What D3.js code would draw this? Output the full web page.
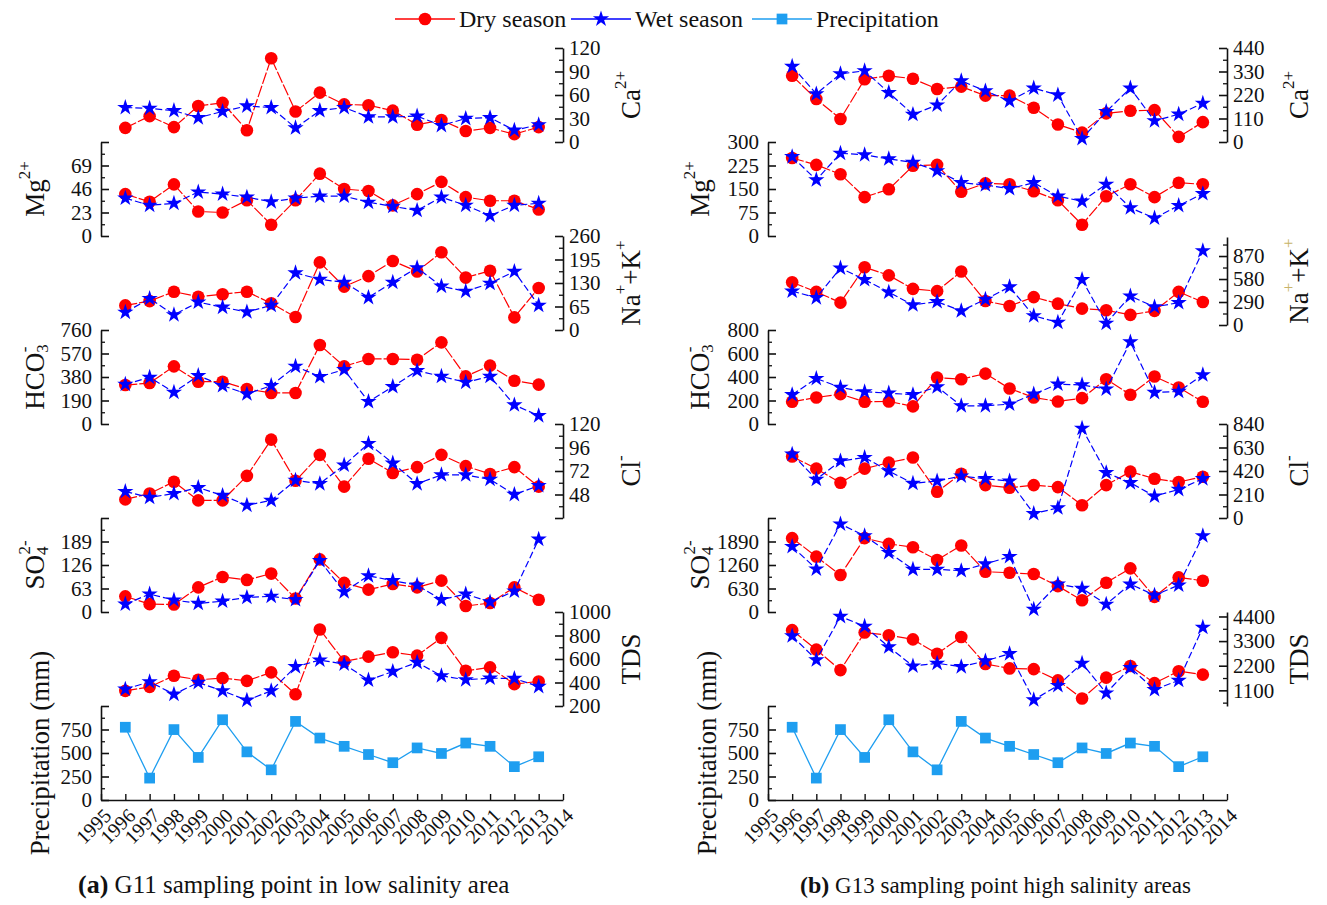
<!DOCTYPE html>
<html>
<head>
<meta charset="utf-8">
<script src="https://cdn.jsdelivr.net/npm/d3@7"></script>
<style>
  body { margin: 0; background: #fff; }
  svg { display: block; font-family: "Liberation Serif", "Times New Roman", serif; }
</style>
</head>
<body>
<svg id="chart" width="1327" height="905"></svg>
<script>
// ---- Sampling years and axis years ----
const YEARS = [1996, 1997, 1998, 1999, 2000, 2001, 2002, 2003, 2004, 2005, 2006, 2007, 2008, 2009, 2010, 2011, 2012, 2013];
const AXIS_YEARS = [1995, 1996, 1997, 1998, 1999, 2000, 2001, 2002, 2003, 2004, 2005, 2006, 2007, 2008, 2009, 2010, 2011, 2012, 2013, 2014];

// ---- Annual precipitation (mm), shared by both sites ----
const precipitation = [774, 233, 749, 453, 854, 512, 321, 836, 659, 571, 484, 397, 554, 495, 606, 571, 355, 460];

// ---- G11: low salinity area ----
const g11CaDry   = [18, 33, 19, 46, 50, 15, 107, 39, 63, 48, 47, 40, 22, 28, 14, 18, 10, 19];
const g11CaWet   = [44, 43, 40, 31, 39, 46, 44, 18, 40, 44, 32, 32, 33, 21, 30, 31, 15, 22];
const g11MgDry   = [41, 33.5, 50.5, 24, 23, 35, 11, 35, 61, 46, 44, 30, 41, 53, 38, 34.5, 34.5, 26];
const g11MgWet   = [37, 30, 32, 43, 41, 38, 33.5, 37, 39, 39, 33, 29, 25, 38, 30, 20, 30, 32];
const g11NaKDry  = [68, 80, 106, 92, 99, 106, 74, 36, 187, 120, 149, 191, 162, 215, 145, 164, 35, 116];
const g11NaKWet  = [49, 87, 42, 77, 63, 50, 68, 158, 140, 132, 90, 132, 172, 121, 107, 129, 162, 68];
const g11HCO3Dry = [315, 331, 466, 342, 342, 283, 251, 251, 639, 466, 526, 526, 520, 660, 385, 472, 350, 318];
const g11HCO3Wet = [321, 377, 256, 391, 310, 243, 310, 466, 383, 439, 181, 302, 431, 385, 337, 385, 154, 67];
const g11ClDry   = [43, 49, 61, 42, 42, 67, 104, 62, 88.5, 56, 84.5, 70, 76, 88.5, 77, 69, 76, 56];
const g11ClWet   = [51, 45, 49, 55, 47, 37, 42, 62.5, 59, 78, 100, 80, 59, 68, 68, 63.5, 48, 57];
const g11SO4Dry  = [42, 21, 20, 66, 94, 86, 103, 36, 141, 78, 60, 75, 66, 84, 16, 24, 66, 33];
const g11SO4Wet  = [21, 48, 32, 23, 29, 39, 42, 33, 138, 54, 97, 84, 72, 33, 48, 27, 56, 195];
const g11TDSDry  = [329, 363, 457, 423, 437, 414, 486, 300, 851, 580, 620, 657, 629, 780, 500, 529, 386, 409];
const g11TDSWet  = [343, 406, 300, 400, 329, 249, 329, 534, 591, 557, 420, 494, 571, 457, 423, 437, 434, 366];

// ---- G13: high salinity area ----
const g13CaDry   = [310, 201, 108, 294, 310, 296, 248, 259, 217, 217, 160, 82, 44, 134, 146, 149, 24, 93];
const g13CaWet   = [354, 225, 319, 333, 231, 129, 173, 286, 239, 192, 252, 220, 16, 142, 252, 99, 130, 181];
const g13MgDry   = [249, 227, 197, 124, 149, 224, 227, 141, 168, 165, 143, 114, 36, 127, 165, 124, 170, 165];
const g13MgWet   = [253, 179, 264, 259, 246, 235, 208, 170, 163, 151, 170, 127, 111, 165, 90, 57, 97, 135];
const g13NaKDry  = [539, 418, 282, 729, 626, 456, 427, 675, 302, 240, 352, 269, 207, 186, 128, 178, 418, 290];
const g13NaKWet  = [427, 344, 717, 572, 414, 253, 294, 178, 323, 481, 116, 33, 572, 21, 365, 228, 282, 936];
const g13HCO3Dry = [189, 226, 254, 189, 192, 150, 395, 381, 429, 302, 226, 192, 220, 381, 249, 404, 311, 189];
const g13HCO3Wet = [249, 387, 311, 274, 263, 249, 316, 155, 155, 169, 254, 339, 333, 297, 698, 268, 277, 418];
const g13ClDry   = [549, 441, 315, 441, 495, 540, 234, 396, 294, 270, 294, 276, 114, 294, 414, 351, 321, 369];
const g13ClWet   = [570, 345, 510, 540, 420, 309, 330, 375, 351, 330, 39, 90, 801, 405, 315, 195, 255, 351];
const g13SO4Dry  = [1980, 1485, 990, 1980, 1827, 1737, 1395, 1782, 1080, 1053, 1017, 693, 315, 783, 1170, 405, 927, 837];
const g13SO4Wet  = [1755, 1152, 2358, 2043, 1593, 1143, 1143, 1107, 1287, 1485, 72, 747, 630, 207, 747, 450, 720, 2043];
const g13TDSDry  = [3789, 2919, 2003, 3682, 3560, 3376, 2735, 3483, 2277, 2079, 2048, 1544, 735, 1666, 2185, 1422, 1956, 1803];
const g13TDSWet  = [3530, 2461, 4400, 3957, 3041, 2185, 2308, 2155, 2414, 2735, 674, 1315, 2308, 980, 2109, 1132, 1544, 3911];

// ---- Labelled tick values for each axis ----
const g11CaTicks   = [0, 30, 60, 90, 120];
const g11MgTicks   = [0, 23, 46, 69];
const g11NaKTicks  = [0, 65, 130, 195, 260];
const g11HCO3Ticks = [0, 190, 380, 570, 760];
const g11ClTicks   = [48, 72, 96, 120];
const g11SO4Ticks  = [0, 63, 126, 189];
const g11TDSTicks  = [200, 400, 600, 800, 1000];
const g13CaTicks   = [0, 110, 220, 330, 440];
const g13MgTicks   = [0, 75, 150, 225, 300];
const g13NaKTicks  = [0, 290, 580, 870];
const g13HCO3Ticks = [0, 200, 400, 600, 800];
const g13ClTicks   = [0, 210, 420, 630, 840];
const g13SO4Ticks  = [0, 630, 1260, 1890];
const g13TDSTicks  = [1100, 2200, 3300, 4400];
const precipTicks  = [0, 250, 500, 750];

// ---- Series names ----
const SERIES = ["Dry season", "Wet season", "Precipitation"];
const COLORS = { dry: "#ff0000", wet: "#0000ff", precip: "#1e9ef0" };

// ---- Layout ----
const BAND_TOP = 48, BAND_H = 94;
const bandRange = i => [BAND_TOP + BAND_H * (i + 1), BAND_TOP + BAND_H * i];

const panels = [
  {
    xRange: [101, 563], captionX: 78, captionSize: 25, tag: "(a)", caption: " G11 sampling point in low salinity area",
    leftTitleX: 35, rightTitleX: 631, precipTitleX: 40,
    bands: [
      { key: "Ca",   side: "right", dry: g11CaDry,   wet: g11CaWet,   domain: [0, 120],  step: 30,  ticks: g11CaTicks },
      { key: "Mg",   side: "left",  dry: g11MgDry,   wet: g11MgWet,   domain: [0, 92],   step: 23,  ticks: g11MgTicks },
      { key: "NaK",  side: "right", dry: g11NaKDry,  wet: g11NaKWet,  domain: [0, 260],  step: 65,  ticks: g11NaKTicks },
      { key: "HCO3", side: "left",  dry: g11HCO3Dry, wet: g11HCO3Wet, domain: [0, 760],  step: 190, ticks: g11HCO3Ticks },
      { key: "Cl",   side: "right", dry: g11ClDry,   wet: g11ClWet,   domain: [24, 120], step: 24,  ticks: g11ClTicks },
      { key: "SO4",  side: "left",  dry: g11SO4Dry,  wet: g11SO4Wet,  domain: [0, 252],  step: 63,  ticks: g11SO4Ticks },
      { key: "TDS",  side: "right", dry: g11TDSDry,  wet: g11TDSWet,  domain: [200, 1000], step: 200, ticks: g11TDSTicks },
      { key: "P",    side: "left",  precip: precipitation, domain: [0, 1000], step: 250, ticks: precipTicks }
    ]
  },
  {
    xRange: [768, 1227], captionX: 800, captionSize: 23, tag: "(b)", caption: " G13 sampling point high salinity areas",
    leftTitleX: 700, rightTitleX: 1299, precipTitleX: 707, faintSup: true,
    bands: [
      { key: "Ca",   side: "right", dry: g13CaDry,   wet: g13CaWet,   domain: [0, 440],  step: 110, ticks: g13CaTicks },
      { key: "Mg",   side: "left",  dry: g13MgDry,   wet: g13MgWet,   domain: [0, 300],  step: 75,  ticks: g13MgTicks },
      { key: "NaK",  side: "right", dry: g13NaKDry,  wet: g13NaKWet,  domain: [0, 1110], step: 290, ticks: g13NaKTicks, range: [325, 237] },
      { key: "HCO3", side: "left",  dry: g13HCO3Dry, wet: g13HCO3Wet, domain: [0, 800],  step: 200, ticks: g13HCO3Ticks },
      { key: "Cl",   side: "right", dry: g13ClDry,   wet: g13ClWet,   domain: [0, 840],  step: 210, ticks: g13ClTicks },
      { key: "SO4",  side: "left",  dry: g13SO4Dry,  wet: g13SO4Wet,  domain: [0, 2520], step: 630, ticks: g13SO4Ticks },
      { key: "TDS",  side: "right", dry: g13TDSDry,  wet: g13TDSWet,  domain: [400, 4600], step: 1100, ticks: g13TDSTicks },
      { key: "P",    side: "left",  precip: precipitation, domain: [0, 1000], step: 250, ticks: precipTicks }
    ]
  }
];

// Axis titles with chemical super/subscripts: s = baseline shift, f = font size, dx = backstep
const TITLE_PARTS = {
  Ca:   [{ t: "Ca" }, { t: "2+", s: -11, f: 17 }],
  Mg:   [{ t: "Mg" }, { t: "2+", s: -11, f: 17 }],
  NaK:  [{ t: "Na" }, { t: "+", s: -11, f: 17, sup: true }, { t: "+K" }, { t: "+", s: -11, f: 17, sup: true }],
  HCO3: [{ t: "HCO" }, { t: "3", s: 7, f: 17 }, { t: "-", s: -11, f: 17, dx: -8 }],
  Cl:   [{ t: "Cl" }, { t: "-", s: -11, f: 17 }],
  SO4:  [{ t: "SO" }, { t: "4", s: 7, f: 17 }, { t: "2-", s: -11, f: 17, dx: -8 }],
  TDS:  [{ t: "TDS" }],
  P:    [{ t: "Precipitation (mm)" }]
};

const svg = d3.select("#chart");

function tickSets(b) {
  const half = b.step / 2;
  const vals = [];
  const start = Math.ceil((b.domain[0] - 1e-9) / half);
  for (let k = start; k * half <= b.domain[1] + 1e-9; k++) vals.push(+(k * half).toFixed(6));
  const isMajor = v => Math.abs(v / b.step - Math.round(v / b.step)) < 1e-6;
  return { majors: vals.filter(isMajor), minors: vals.filter(v => !isMajor(v)) };
}

function drawTitle(g, cx, cy, key, faintSup) {
  const text = g.append("text")
    .attr("transform", `translate(${cx},${cy}) rotate(-90)`)
    .attr("text-anchor", "middle")
    .attr("dominant-baseline", "central")
    .style("font-size", "27px")
    .attr("fill", "#111");
  let shift = 0;
  TITLE_PARTS[key].forEach(p => {
    const s = p.s || 0;
    const ts = text.append("tspan").text(p.t).attr("dy", s - shift);
    if (p.dx) ts.attr("dx", p.dx);
    if (p.f) ts.style("font-size", p.f + "px");
    if (p.sup && faintSup) ts.attr("fill", "#c8b46a");
    shift = s;
  });
}

const star = d3.symbol().type(d3.symbolStar).size(82);
const square = d3.symbol().type(d3.symbolSquare).size(115);

panels.forEach(p => {
  const g = svg.append("g");
  const x = d3.scaleLinear().domain([1995, 2014]).range(p.xRange);

  p.bands.forEach((b, i) => {
    const y = d3.scaleLinear().domain(b.domain).range(b.range || bandRange(i));
    const { majors, minors } = tickSets(b);
    const axisX = b.side === "left" ? p.xRange[0] : p.xRange[1];
    const mk = b.side === "left" ? d3.axisLeft : d3.axisRight;

    // minor ticks
    g.append("g").attr("transform", `translate(${axisX},0)`)
      .call(mk(y).tickValues(minors).tickSize(-4).tickSizeOuter(0).tickFormat(""))
      .call(a => a.select(".domain").remove())
      .call(a => a.selectAll("line").attr("stroke", "#111").attr("stroke-width", 1.3));
    // major ticks, labels and axis line
    g.append("g").attr("transform", `translate(${axisX},0)`)
      .call(mk(y).tickValues(majors).tickSize(-8).tickSizeOuter(0).tickPadding(b.side === "left" ? 9 : 6)
        .tickFormat(d => b.ticks.includes(d) ? d : ""))
      .call(a => a.select(".domain").attr("stroke", "#111").attr("stroke-width", 1.6))
      .call(a => a.selectAll("line").attr("stroke", "#111").attr("stroke-width", 1.6))
      .call(a => a.selectAll("text").attr("fill", "#111").style("font-size", "21px")
        .style("font-family", "Liberation Serif, serif"));

    const yMid = (y.range()[0] + y.range()[1]) / 2;
    const titleX = b.key === "P" ? p.precipTitleX : (b.side === "left" ? p.leftTitleX : p.rightTitleX);
    drawTitle(g, titleX, b.key === "P" ? 753 : yMid, b.key, p.faintSup);

    const line = d3.line().x((d, k) => x(YEARS[k])).y(d => y(d));

    if (b.precip) {
      g.append("path").datum(b.precip).attr("d", line).attr("fill", "none")
        .attr("stroke", COLORS.precip).attr("stroke-width", 1.3);
      g.selectAll(null).data(b.precip).join("path")
        .attr("d", square).attr("fill", COLORS.precip)
        .attr("transform", (d, k) => `translate(${x(YEARS[k])},${y(d)})`);

      // x axis with year labels
      const xa = g.append("g").attr("transform", `translate(0,${y.range()[0]})`)
        .call(d3.axisBottom(x).tickValues(AXIS_YEARS).tickSize(-6).tickSizeOuter(0).tickFormat(d3.format("d")));
      xa.select(".domain").attr("stroke", "#111").attr("stroke-width", 1.6);
      xa.selectAll("line").attr("stroke", "#111").attr("stroke-width", 1.4);
      xa.selectAll("text")
        .attr("x", 0).attr("y", 0).attr("dy", null)
        .attr("text-anchor", "end")
        .attr("dominant-baseline", "central")
        .attr("transform", "translate(6,12) rotate(-45)")
        .attr("fill", "#111")
        .style("font-size", "20px")
        .style("font-family", "Liberation Serif, serif");
      return;
    }

    g.append("path").datum(b.dry).attr("d", line).attr("fill", "none")
      .attr("stroke", COLORS.dry).attr("stroke-width", 1.2).attr("stroke-dasharray", "12,2");
    g.selectAll(null).data(b.dry).join("circle")
      .attr("cx", (d, k) => x(YEARS[k])).attr("cy", d => y(d)).attr("r", 6.3)
      .attr("fill", COLORS.dry);
    g.append("path").datum(b.wet).attr("d", line).attr("fill", "none")
      .attr("stroke", COLORS.wet).attr("stroke-width", 1.2).attr("stroke-dasharray", "7,3");
    g.selectAll(null).data(b.wet).join("path")
      .attr("d", star).attr("fill", COLORS.wet)
      .attr("transform", (d, k) => `translate(${x(YEARS[k])},${y(d)})`);
  });

  // caption
  const cap = g.append("text").attr("x", p.captionX).attr("y", 893)
    .style("font-size", p.captionSize + "px").attr("fill", "#111");
  cap.append("tspan").text(p.tag).style("font-weight", "bold").style("font-size", (p.captionSize + 1) + "px");
  cap.append("tspan").text(p.caption);
});

// ---- Legend ----
const legend = svg.append("g").attr("transform", "translate(0,19)");
const legendItems = [
  { name: SERIES[0], color: COLORS.dry, x0: 395, sym: "circle" },
  { name: SERIES[1], color: COLORS.wet, x0: 571, sym: "star" },
  { name: SERIES[2], color: COLORS.precip, x0: 752, sym: "square" }
];
legendItems.forEach(it => {
  legend.append("line").attr("x1", it.x0).attr("x2", it.x0 + 60).attr("y1", 0).attr("y2", 0)
    .attr("stroke", it.color).attr("stroke-width", 1.4);
  if (it.sym === "circle") {
    legend.append("circle").attr("cx", it.x0 + 30).attr("cy", 0).attr("r", 6.3).attr("fill", it.color);
  } else {
    legend.append("path").attr("d", it.sym === "star" ? star() : square())
      .attr("transform", `translate(${it.x0 + 30},0)`).attr("fill", it.color);
  }
  legend.append("text").attr("x", it.x0 + 64).attr("y", 0).attr("dominant-baseline", "central")
    .style("font-size", "24px").attr("fill", "#111").text(it.name);
});
</script>
</body>
</html>
